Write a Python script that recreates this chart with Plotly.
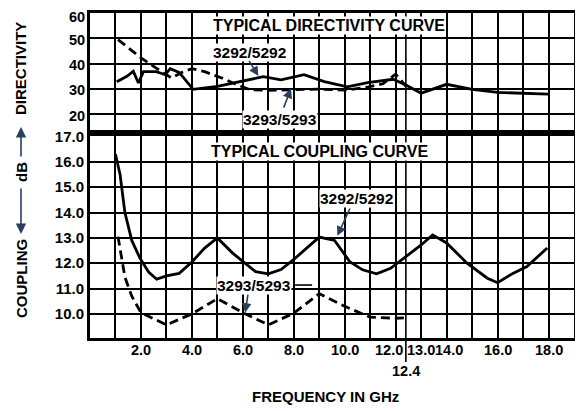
import plotly.graph_objects as go

# ---------------- data ----------------
# Directivity, dB
dir_3292_f = [1.05, 1.45, 1.7, 1.9, 2.1, 2.6, 2.95, 3.15, 3.5, 4.05, 5.0, 6.0, 6.8, 7.5,
              8.4, 9.2, 10.1, 10.9, 11.9, 12.4, 13.0, 14.0, 15.0, 16.0, 17.0, 18.0]
dir_3292_v = [32.8, 35.0, 37.0, 32.3, 36.8, 36.8, 35.6, 38.0, 36.5, 29.8, 31.0, 33.2, 34.8, 33.6,
              35.6, 32.9, 30.8, 32.5, 33.8, 31.5, 28.3, 31.8, 29.8, 28.6, 28.1, 27.9]

dir_3293_f = [1.1, 2.0, 2.6, 3.05, 3.2, 3.6, 4.0, 4.5, 5.2, 5.8, 6.3, 7.0, 8.0, 9.0,
              10.0, 10.8, 11.5, 12.0, 12.2, 12.4]
dir_3293_v = [49.5, 42.3, 38.2, 35.2, 34.3, 36.5, 38.0, 36.8, 34.2, 31.5, 29.6, 29.4, 29.6, 29.9,
              29.5, 30.5, 32.0, 35.8, 33.5, 31.0]

# Coupling, dB
cpl_3292_f = [1.0, 1.18, 1.37, 1.64, 1.96, 2.3, 2.62, 3.0, 3.5, 4.0, 4.5, 5.0, 5.6, 6.1, 6.5,
              7.0, 7.5, 8.0, 9.0, 9.6, 10.2, 10.7, 11.25, 11.8, 12.4, 13.0, 13.45, 14.0,
              14.8, 15.6, 16.0, 16.6, 17.15, 17.95]
cpl_3292_v = [16.3, 15.5, 14.0, 12.9, 12.2, 11.65, 11.37, 11.5, 11.6, 12.05, 12.6, 13.0, 12.4,
              12.0, 11.67, 11.58, 11.75, 12.15, 13.03, 12.9, 12.06, 11.74, 11.58, 11.8, 12.26,
              12.72, 13.12, 12.8, 12.0, 11.41, 11.23, 11.6, 11.87, 12.6]

cpl_3293_f = [1.1, 1.2, 1.37, 1.64, 2.0, 3.0, 4.0, 5.0, 6.0, 7.0, 8.0, 9.0, 10.0, 11.0, 12.0, 12.4]
cpl_3293_v = [13.05, 12.4, 11.45, 10.7, 10.05, 9.57, 10.0, 10.6, 10.05, 9.57, 10.03, 10.8,
              10.3, 9.87, 9.83, 9.85]

# frequency tick labels (label positions as printed in the original, crowded near 12-14 GHz)
freq_tick_vals = [2, 4, 6, 8, 10, 12, 13, 14, 16, 18]
freq_tick_text = ["2.0", "4.0", "6.0", "8.0", "10.0", "12.0", "13.0", "14.0", "16.0", "18.0"]
freq_label_pos = [2, 4, 6, 8, 10, 11.74, 12.98, 14.1, 16, 18]
dir_tick_vals = [20, 30, 40, 50, 60]
dir_tick_text = ["20", "30", "40", "50", "60"]
cpl_tick_vals = [10, 11, 12, 13, 14, 15, 16, 17]
cpl_tick_text = ["10.0", "11.0", "12.0", "13.0", "14.0", "15.0", "16.0", "17.0"]

band_edge = 12.4

# ---------------- figure ----------------
# The page body has an 8px default margin, so the figure is laid out in page
# coordinates minus 8 px.
OFF = 8
W, H = 583 - OFF, 411 - OFF
PL, PR, PT, PB = 90, 574, 13, 338          # plot area in page pixels
ML, MR, MT, MB = PL - OFF, (W + OFF) - PR, PT - OFF, (H + OFF) - PB
PW, PH = PR - PL, PB - PT


def px_x(px):
    return (px - PL) / PW


def px_y(py):
    return (PB - py) / PH


FONT = "Liberation Sans, Arial, Helvetica, sans-serif"
LW = 2.8
DASH = "9px,5px"

fig = go.Figure()
fig.add_trace(go.Scatter(x=dir_3292_f, y=dir_3292_v, mode="lines", xaxis="x", yaxis="y",
                         line=dict(color="black", width=LW), name="3292/5292"))
fig.add_trace(go.Scatter(x=dir_3293_f, y=dir_3293_v, mode="lines", xaxis="x", yaxis="y",
                         line=dict(color="black", width=LW, dash=DASH), name="3293/5293"))
fig.add_trace(go.Scatter(x=cpl_3292_f, y=cpl_3292_v, mode="lines", xaxis="x2", yaxis="y2",
                         line=dict(color="black", width=LW), name="3292/5292"))
fig.add_trace(go.Scatter(x=cpl_3293_f, y=cpl_3293_v, mode="lines", xaxis="x2", yaxis="y2",
                         line=dict(color="black", width=LW, dash=DASH), name="3293/5293"))

grid = dict(showgrid=True, gridcolor="black", gridwidth=1.6, zeroline=False,
            showline=True, mirror=True, linecolor="black", ticks="", automargin=False)

fig.update_layout(
    width=W, height=H,
    margin=dict(l=ML, r=MR, t=MT, b=MB, pad=0),
    paper_bgcolor="white", plot_bgcolor="white",
    showlegend=False,
    font=dict(family=FONT, size=15, color="black", weight="bold"),
    xaxis=dict(domain=[0, 1], anchor="y", range=[0, 19], tickmode="linear", tick0=0, dtick=1,
               showticklabels=False, linewidth=2.5, **grid),
    yaxis=dict(domain=[px_y(130), 1], anchor="x", range=[13.7, 60.05], tickmode="array",
               tickvals=dir_tick_vals, showticklabels=False, linewidth=2.5, **grid),
    xaxis2=dict(domain=[0, 1], anchor="y2", range=[0, 19], tickmode="array",
                tickvals=freq_tick_vals, showticklabels=False, linewidth=3,
                minor=dict(tickmode="linear", tick0=0, dtick=1, showgrid=True,
                           gridcolor="black", gridwidth=1.6, ticks=""),
                **grid),
    yaxis2=dict(domain=[0, px_y(136)], anchor="x2", range=[9.05, 17.02], tickmode="array",
                tickvals=cpl_tick_vals, ticktext=cpl_tick_text, linewidth=3,
                ticklabeloverflow="allow", **grid),
)

# 12.4 GHz band-edge line, extending below the axis
fig.add_shape(type="line", xref="x2", yref="paper", x0=band_edge, x1=band_edge,
              y0=px_y(362), y1=1, line=dict(color="black", width=1.6))

C = dict(xanchor="center", yanchor="middle")
ann = []
# frequency tick labels
for pos, txt in zip(freq_label_pos, freq_tick_text):
    ann.append(dict(xref="x2", yref="paper", x=pos, y=px_y(350), text=txt,
                    showarrow=False, font=dict(size=14.5), **C))

# directivity tick labels (sit just below their grid lines; top one kept inside the page)
for val, txt in zip(dir_tick_vals, dir_tick_text):
    ann.append(dict(xref="paper", yref="y", x=px_x(87), y=val, text=txt, showarrow=False,
                    xanchor="right", yanchor="middle", yshift=-4 if val == 60 else -1.5,
                    font=dict(size=14.5)))

# titles inside panels
ann.append(dict(xref="x", yref="y", x=9.38, y=54.97, text="TYPICAL DIRECTIVITY CURVE",
                showarrow=False, bgcolor="white", borderpad=0, font=dict(size=16), **C))
ann.append(dict(xref="x2", yref="y2", x=9.03, y=16.39, text="TYPICAL COUPLING CURVE",
                showarrow=False, bgcolor="white", borderpad=0, font=dict(size=16), **C))

# series labels
ann.append(dict(xref="x", yref="y", x=6.28, y=44.55, text="3292/5292", showarrow=False,
                bgcolor="white", borderpad=0, font=dict(size=15.5), **C))
ann.append(dict(xref="x", yref="y", x=6.61, y=35.05, axref="x", ayref="y", ax=6.21, ay=41.7,
                text="", showarrow=True, arrowhead=2, arrowsize=1.2, arrowwidth=1.6))
ann.append(dict(xref="x", yref="y", x=7.46, y=17.74, text="3293/5293", showarrow=False,
                bgcolor="white", borderpad=0, font=dict(size=15.5), **C))
ann.append(dict(xref="x", yref="y", x=7.89, y=30.1, axref="x", ayref="y", ax=7.58, ay=21.98,
                text="", showarrow=True, arrowhead=2, arrowsize=1.2, arrowwidth=1.6))

ann.append(dict(xref="x2", yref="y2", x=10.47, y=14.56, text="3292/5292", showarrow=False,
                bgcolor="white", borderpad=0, font=dict(size=15.5), **C))
ann.append(dict(xref="x2", yref="y2", x=9.71, y=13.08, axref="x2", ayref="y2", ax=10.23, ay=14.22,
                text="", showarrow=True, arrowhead=2, arrowsize=1.2, arrowwidth=1.6))
ann.append(dict(xref="x2", yref="y2", x=6.44, y=11.13, text="3293/5293", showarrow=False,
                bgcolor="white", borderpad=0, font=dict(size=15.5), **C))
ann.append(dict(xref="x2", yref="y2", x=6.09, y=10.05, axref="x2", ayref="y2", ax=6.21, ay=10.82,
                text="", showarrow=True, arrowhead=2, arrowsize=1.2, arrowwidth=1.6))
fig.add_shape(type="line", xref="x2", yref="y2", x0=8.05, x1=8.72, y0=11.14, y1=11.14,
              line=dict(color="black", width=1.6))

# 12.4 label below the axis
ann.append(dict(xref="x2", yref="paper", x=band_edge, y=px_y(371), text="12.4",
                showarrow=False, font=dict(size=14.5), **C))

# x axis title
ann.append(dict(xref="paper", yref="paper", x=px_x(325), y=px_y(397), text="FREQUENCY IN GHz",
                showarrow=False, font=dict(size=15), **C))

# left vertical title: COUPLING <-- dB --> DIRECTIVITY
xl = px_x(21)
ann.append(dict(xref="paper", yref="paper", x=xl, y=px_y(69), text="DIRECTIVITY",
                textangle=-90, showarrow=False, font=dict(size=15), **C))
ann.append(dict(xref="paper", yref="paper", x=xl, y=px_y(279), text="COUPLING",
                textangle=-90, showarrow=False, font=dict(size=15), **C))
ann.append(dict(xref="paper", yref="paper", x=xl, y=px_y(172), text="dB",
                textangle=-90, showarrow=False, font=dict(size=15), **C))
ann.append(dict(xref="paper", yref="paper", x=xl, y=px_y(127), ax=0, ay=31, text="",
                showarrow=True, arrowhead=2, arrowsize=1.3, arrowwidth=1.6))
ann.append(dict(xref="paper", yref="paper", x=xl, y=px_y(234), ax=0, ay=-47, text="",
                showarrow=True, arrowhead=2, arrowsize=1.3, arrowwidth=1.6))

fig.update_layout(annotations=ann)
fig.write_html("out.html")
